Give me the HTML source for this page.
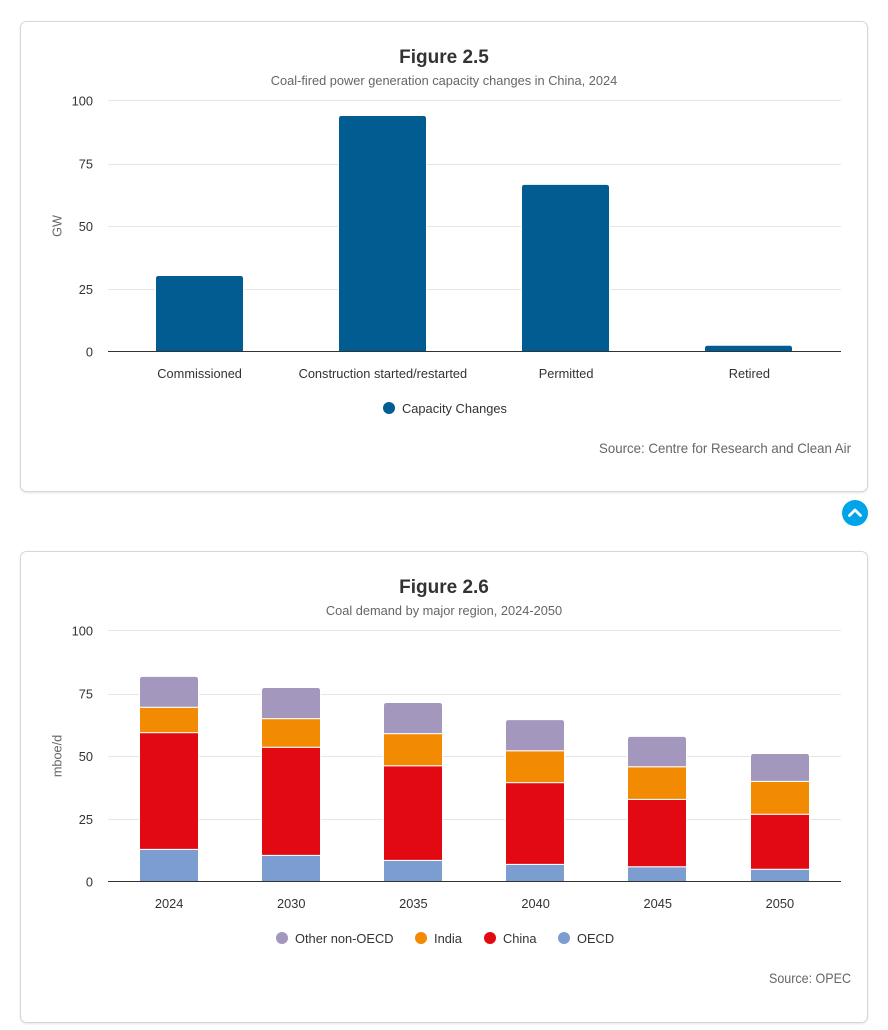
<!DOCTYPE html>
<html lang="en">
<head>
<meta charset="utf-8">
<title>Figures 2.5 and 2.6</title>
<style>
html,body{margin:0;padding:0;background:#fff;}
body{width:888px;height:1030px;overflow:hidden;position:relative;}
svg{display:block;position:absolute;left:0;top:0;}
text{font-family:"Liberation Sans",Arial,sans-serif;}
.title{font-size:19px;font-weight:bold;fill:#333;text-anchor:middle;}
.subtitle{font-size:12.8px;fill:#666;text-anchor:middle;}
.tick{font-size:12.8px;fill:#333;}
.axis-title{font-size:12.7px;fill:#666;text-anchor:middle;}
.legend{font-size:12.85px;fill:#333;}
.source{font-size:14px;fill:#666;text-anchor:end;}
</style>
</head>
<body>
<svg id="canvas" width="888" height="1030" viewBox="0 0 888 1030" xmlns="http://www.w3.org/2000/svg">
  <defs>
    <filter id="card-shadow" x="-2%" y="-2%" width="104%" height="104%">
      <feDropShadow dx="0" dy="1" stdDeviation="1" flood-color="#000" flood-opacity="0.10"/>
    </filter>
  </defs>
  <rect x="20.5" y="21.5" width="847" height="470" rx="6" fill="#fff" stroke="#d6d6d6" filter="url(#card-shadow)"/>
  <rect x="20.5" y="551.5" width="847" height="471" rx="6" fill="#fff" stroke="#d6d6d6" filter="url(#card-shadow)"/>

  <text class="title" x="444" y="63">Figure 2.5</text>
  <text class="subtitle" x="444" y="85">Coal-fired power generation capacity changes in China, 2024</text>
  <text class="axis-title" transform="translate(61.5,226) rotate(-90)">GW</text>
  <g id="chart1"></g>
  <circle cx="389" cy="408" r="6" fill="#005c91"/>
  <text class="legend" x="402" y="413">Capacity Changes</text>
  <text class="source" x="851" y="453" textLength="252" lengthAdjust="spacingAndGlyphs">Source: Centre for Research and Clean Air</text>

  <g>
    <circle cx="855" cy="513" r="13" fill="#00a4e8"/>
    <path d="M849.5 515.5 L855 510 L860.5 515.5" fill="none" stroke="#fff" stroke-width="2.8" stroke-linecap="round" stroke-linejoin="round"/>
  </g>

  <text class="title" x="444" y="593">Figure 2.6</text>
  <text class="subtitle" x="444" y="615">Coal demand by major region, 2024-2050</text>
  <text class="axis-title" transform="translate(61.5,756) rotate(-90)">mboe/d</text>
  <g id="chart2"></g>
  <circle cx="282" cy="938" r="6" fill="#a397bd"/>
  <text class="legend" x="295" y="943">Other non-OECD</text>
  <circle cx="421" cy="938" r="6" fill="#f28a02"/>
  <text class="legend" x="434" y="943">India</text>
  <circle cx="490" cy="938" r="6" fill="#e30913"/>
  <text class="legend" x="503" y="943">China</text>
  <circle cx="564" cy="938" r="6" fill="#7c9dd0"/>
  <text class="legend" x="577" y="943">OECD</text>
  <text class="source" x="851" y="983" textLength="82" lengthAdjust="spacingAndGlyphs">Source: OPEC</text>
</svg>
<script>
var yTicks = [0, 25, 50, 75, 100];

var capacityCategories = ['Commissioned', 'Construction started/restarted', 'Permitted', 'Retired'];
var capacityValues = [30.3, 94, 66.6, 2.5];

var demandCategories = ['2024', '2030', '2035', '2040', '2045', '2050'];
var oecdValues = [12.8, 10.4, 8.4, 6.8, 5.9, 4.9];
var chinaValues = [46.5, 43.1, 37.7, 32.6, 26.8, 21.9];
var indiaValues = [10.1, 11.4, 12.8, 12.7, 13.0, 13.1];
var otherValues = [12.3, 12.4, 12.4, 12.4, 12.1, 11.1];

var NS = 'http://www.w3.org/2000/svg';
var PLOT_LEFT = 108;
var PLOT_RIGHT = 841;
var LABEL_BAND_TOTAL = 733;
var CAPACITY_BAND_TOTAL = 732;
var DEMAND_BAND_TOTAL = 732.6;
var PLOT_HEIGHT = 251;
var Y_MAX = 100;

function svgEl(tag, parent) {
  var el = document.createElementNS(NS, tag);
  parent.appendChild(el);
  return el;
}
function yScale(value, baseY) {
  return baseY - (value / Y_MAX) * PLOT_HEIGHT;
}
function xBand(index, count, total) {
  var step = total / count;
  return PLOT_LEFT + step * (index + 0.5);
}
function crispY(tick, baseY) {
  var y = yScale(tick, baseY);
  if (tick === Y_MAX || tick === 0) {
    return y;
  }
  return Math.floor(y + 0.75) + 0.5;
}
function topRoundedPath(x, yTop, w, yBase, r) {
  var rr = Math.min(r, (yBase - yTop));
  return 'M' + x + ' ' + yBase + 'V' + (yTop + rr) + 'Q' + x + ' ' + yTop + ' ' + (x + rr) + ' ' + yTop +
    'H' + (x + w - rr) + 'Q' + (x + w) + ' ' + yTop + ' ' + (x + w) + ' ' + (yTop + rr) + 'V' + yBase + 'Z';
}
function barLeft(center, visibleWidth) {
  return Math.round(center - visibleWidth / 2) - 0.5;
}
function drawAxes(group, baseY, categories, prefix) {
  yTicks.forEach(function (tick) {
    var y = crispY(tick, baseY);
    if (tick !== 0) {
      var grid = svgEl('line', group);
      grid.setAttribute('x1', PLOT_LEFT);
      grid.setAttribute('x2', PLOT_RIGHT);
      grid.setAttribute('y1', y);
      grid.setAttribute('y2', y);
      grid.setAttribute('stroke', '#e6e6e6');
      
      
    }
    var label = svgEl('text', group);
    label.setAttribute('class', 'tick');
    label.setAttribute('x', 93);
    label.setAttribute('y', yScale(tick, baseY) + 5);
    label.setAttribute('text-anchor', 'end');
    
    
    label.textContent = tick;
  });
  categories.forEach(function (cat, i) {
    var label = svgEl('text', group);
    label.setAttribute('class', 'tick');
    label.setAttribute('x', xBand(i, categories.length, LABEL_BAND_TOTAL));
    label.setAttribute('y', baseY + 26.5);
    label.setAttribute('text-anchor', 'middle');
    
    
    label.textContent = cat;
  });
}
function drawBaseline(group, baseY, prefix) {
  var axis = svgEl('line', group);
  axis.setAttribute('x1', PLOT_LEFT);
  axis.setAttribute('x2', PLOT_RIGHT);
  axis.setAttribute('y1', baseY);
  axis.setAttribute('y2', baseY);
  axis.setAttribute('stroke', '#333');
  
  
}

(function drawCapacityChart() {
  var group = document.getElementById('chart1');
  var baseY = 351.5;
  var visibleWidth = 87;
  drawAxes(group, baseY, capacityCategories, 'figure-2-5');
  capacityValues.forEach(function (value, i) {
    var cx = xBand(i, capacityCategories.length, CAPACITY_BAND_TOTAL);
    var bar = svgEl('path', group);
    bar.setAttribute('d', topRoundedPath(barLeft(cx, visibleWidth), yScale(value, baseY), visibleWidth + 1, baseY, 3));
    bar.setAttribute('fill', '#005c91');
    bar.setAttribute('stroke', '#fff');
    bar.setAttribute('stroke-width', '1');
    
    
  });
  drawBaseline(group, baseY, 'figure-2-5');
})();

(function drawDemandChart() {
  var group = document.getElementById('chart2');
  var baseY = 881.5;
  var visibleWidth = 58;
  var layers = [
    { name: 'oecd', values: oecdValues, color: '#7c9dd0' },
    { name: 'china', values: chinaValues, color: '#e30913' },
    { name: 'india', values: indiaValues, color: '#f28a02' },
    { name: 'other', values: otherValues, color: '#a397bd' }
  ];
  drawAxes(group, baseY, demandCategories, 'figure-2-6');
  demandCategories.forEach(function (cat, i) {
    var cx = xBand(i, demandCategories.length, DEMAND_BAND_TOTAL);
    var running = 0;
    layers.forEach(function (layer, li) {
      var y0 = yScale(running, baseY);
      running += layer.values[i];
      var y1 = yScale(running, baseY);
      var seg = svgEl('path', group);
      var radius = li === layers.length - 1 ? 3 : 0;
      seg.setAttribute('d', topRoundedPath(barLeft(cx, visibleWidth), y1, visibleWidth + 1, y0, radius));
      seg.setAttribute('fill', layer.color);
      seg.setAttribute('stroke', '#fff');
      seg.setAttribute('stroke-width', '1');
      
      
    });
  });
  drawBaseline(group, baseY, 'figure-2-6');
})();
</script>
</body>
</html>
